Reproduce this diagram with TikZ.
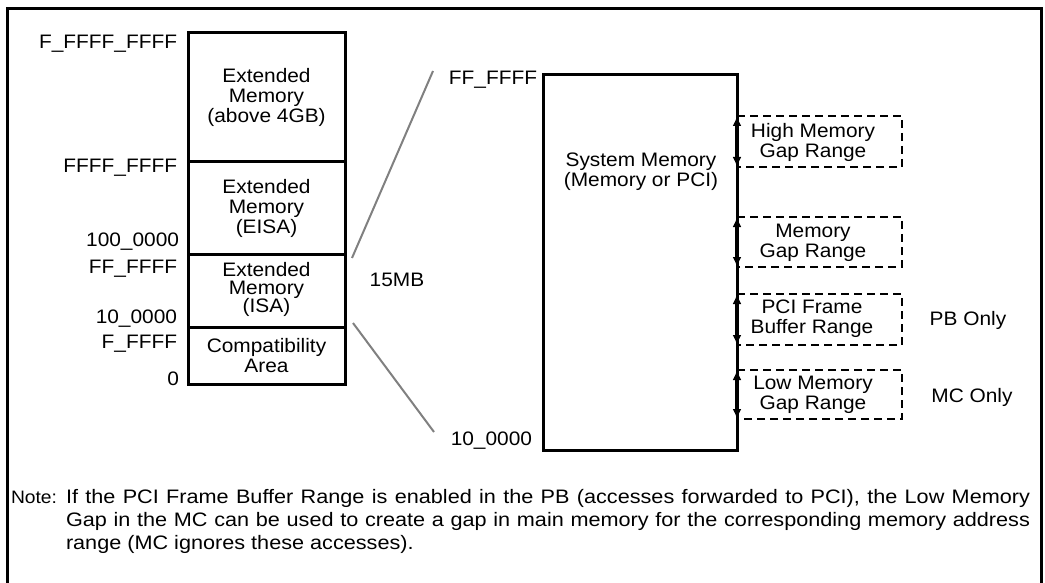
\documentclass[tikz,border=0pt]{standalone}
\usepackage{fontspec}
\setmainfont{Liberation Sans}[FakeStretch=1.07]
\newfontfamily\notefont{Liberation Sans}[FakeStretch=1.11]
\usetikzlibrary{arrows.meta}
\begin{document}
\begin{tikzpicture}[x=1pt,y=-1pt,
  every node/.style={font=\fontsize{19.5}{20}\selectfont, inner sep=0pt, outer sep=0pt},
  membox/.style={draw, line width=3pt, minimum width=157pt, align=center},
  addr/.style={anchor=base east},
  zoomline/.style={draw=black!50, line width=2pt},
  gapbox/.style={minimum width=165pt},
  gapdash/.style={line width=2.5pt, dash pattern=on 8pt off 5pt},
  gaparrow/.style={line width=3.5pt, {Latex[length=10pt,width=9pt]}-{Latex[length=10pt,width=9pt]}},
  gaptext/.style={align=center}
]
\useasboundingbox (0,0) rectangle (1045,583);
\begin{scope}
\clip (0,0) rectangle (1045,583);
\draw[line width=3pt] (7.5,600) -- (7.5,8.5) -- (1041.5,8.5) -- (1041.5,600);
\end{scope}

% left stack
\node[membox, minimum height=129pt] (ext4g) at (266.5,97.5) {Extended\\Memory\\(above 4GB)};
\node[membox, minimum height=92pt] (eisa) at (266.5,208) {Extended\\Memory\\(EISA)};
\node[membox, minimum height=73pt] (isa) at (266.5,290.5) {\raisebox{3pt}{\begin{tabular}{@{}c@{}}Extended\\[-2pt]Memory\\[-2pt](ISA)\end{tabular}}};
\node[membox, minimum height=57pt] (compat) at (266.5,355.5) {Compatibility\\Area};

% addresses
\node[addr] (a1) at (177,49) {F\_FFFF\_FFFF};
\node[addr] (a2) at (177,172.5) {FFFF\_FFFF};
\node[addr] (a3) at (179,246) {100\_0000};
\node[addr] (a4) at (177,273) {FF\_FFFF};
\node[addr] (a5) at (177,323) {10\_0000};
\node[addr] (a6) at (177,348) {F\_FFFF};
\node[addr] (a7) at (179,385) {0};

% zoom lines
\coordinate (zu1) at (352,258);
\coordinate (zu2) at (433,71);
\coordinate (zl1) at (353,323);
\coordinate (zl2) at (434,432);
\draw[zoomline] (zu1) -- (zu2);
\draw[zoomline] (zl1) -- (zl2);
\node (mb) at (397,280) {15MB};

% system memory
\node[draw, line width=3pt, minimum width=194pt, minimum height=375pt] (sys) at (640,262.5) {};
\node[align=center] (systxt) at (641,172) {System Memory\\(Memory or PCI)};
\node[addr] (s1) at (537,85) {FF\_FFFF};
\node[addr] (s2) at (532,445) {10\_0000};

% gap boxes
\node[gapbox, minimum height=51pt] (gHi) at (819.5,141.5) {};
\node[gapbox, minimum height=50pt] (gMem) at (819.5,242) {};
\node[gapbox, minimum height=51pt] (gPci) at (819.5,319.5) {};
\node[gapbox, minimum height=49pt] (gLow) at (819.5,394.5) {};
\foreach \g in {gHi,gMem,gPci,gLow}{
  \draw[gapdash] (\g.north west) -- (\g.north east) -- (\g.south east) -- (\g.south west);
  \draw[gaparrow] (\g.north west) -- (\g.south west);
}
\node[gaptext] (tHi) at (813,142) {High Memory\\Gap Range};
\node[gaptext] (tMem) at (813,242.5) {Memory\\Gap Range};
\node[gaptext] (tPci) at (812,318.5) {PCI Frame\\Buffer Range};
\node[gaptext] (tLow) at (813,395) {Low Memory\\Gap Range};
\node (pb) at (968,320) {PB Only};
\node (mc) at (972,397) {MC Only};

% note
\node[anchor=base west, font=\fontsize{18}{20}\selectfont] (note) at (11,503) {Note:};
\node[anchor=north west, text width=964pt, align=justify, font=\notefont\fontsize{19.5}{23}\selectfont] (notetxt) at (66,489) {If the PCI Frame Buffer Range is enabled in the PB (accesses forwarded to PCI), the Low Memory\linebreak Gap in the MC can be used to create a gap in main memory for the corresponding memory address\linebreak range (MC ignores these accesses).};
\end{tikzpicture}
\end{document}
